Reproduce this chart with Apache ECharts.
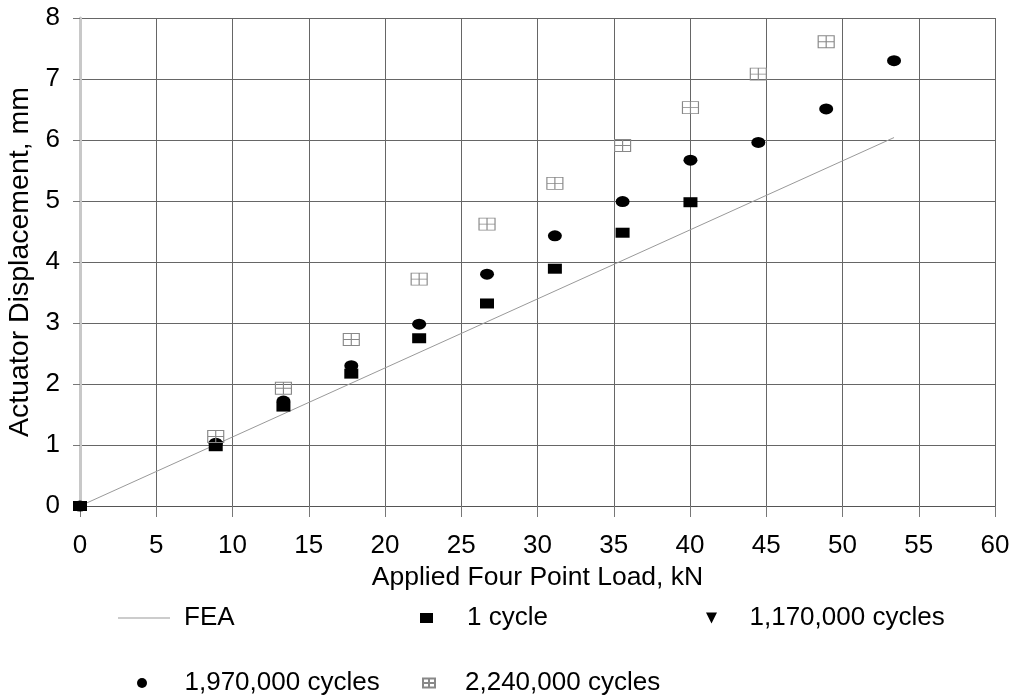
<!DOCTYPE html>
<html>
<head>
<meta charset="utf-8">
<script src="https://cdn.jsdelivr.net/npm/echarts@6/dist/echarts.min.js"></script>
<style>html,body{margin:0;padding:0;background:#fff}#c{width:1011px;height:700px}</style>
</head>
<body>
<div id="c"></div>
<script>
const FONT = "'Liberation Sans', Arial, sans-serif";
const xTicksMin = 0, xTicksMax = 60, xTickStep = 5;
const yTicksMin = 0, yTicksMax = 8, yTickStep = 1;

const feaX = [0, 53.38];
const feaY = [0, 6.04];

const cycle1X = [0, 8.9, 13.34, 17.79, 22.24, 26.69, 31.14, 35.58, 40.03];
const cycle1Y = [0, 0.98, 1.63, 2.17, 2.75, 3.32, 3.89, 4.48, 4.98];

const cycle1170X = [];
const cycle1170Y = [];

const cycle1970X = [0, 8.9, 13.34, 17.79, 22.24, 26.69, 31.14, 35.58, 40.03, 44.48, 48.93, 53.38];
const cycle1970Y = [0, 1.03, 1.72, 2.30, 2.98, 3.80, 4.43, 4.99, 5.67, 5.96, 6.51, 7.30];

const cycle2240X = [8.9, 13.34, 17.79, 22.24, 26.69, 31.14, 35.58, 40.03, 44.48, 48.93];
const cycle2240Y = [1.14, 1.93, 2.73, 3.72, 4.62, 5.29, 5.91, 6.53, 7.08, 7.61];

const names = ['FEA', '1 cycle', '1,170,000 cycles', '1,970,000 cycles', '2,240,000 cycles'];

function pairs(xs, ys) { return xs.map((x, i) => [x, ys[i]]); }

const gridPath = 'path://M0,0H16V12H0Z M8,0V12 M0,6H16';
const triPath = 'path://M0,0H10L5,10Z';

function leg(item, left, top, w, h, gapPad) {
  return {
    data: [item], left: left, top: top, padding: 0, orient: 'horizontal',
    itemWidth: w, itemHeight: h, selectedMode: false,
    textStyle: { fontFamily: FONT, fontSize: 26, color: '#000', padding: [0, 0, 0, gapPad] }
  };
}

const chart = echarts.init(document.getElementById('c'));
chart.setOption({
  animation: false,
  backgroundColor: '#fff',
  grid: { left: 80, right: 16, top: 18, bottom: 194, containLabel: false, outerBoundsMode: 'none' },
  xAxis: {
    type: 'value', min: xTicksMin, max: xTicksMax, interval: xTickStep,
    name: 'Applied Four Point Load, kN', nameLocation: 'middle', nameGap: 58,
    nameTextStyle: { fontFamily: FONT, fontSize: 26.5, color: '#000' },
    axisLine: { show: true, lineStyle: { color: '#555', width: 1 } },
    axisTick: { show: true, length: 11, lineStyle: { color: '#777' } },
    axisLabel: { fontFamily: FONT, fontSize: 26, color: '#000', margin: 27 },
    splitLine: { show: true, lineStyle: { color: '#666', width: 1 } }
  },
  yAxis: {
    type: 'value', min: yTicksMin, max: yTicksMax, interval: yTickStep,
    name: 'Actuator Displacement, mm', nameLocation: 'middle', nameGap: 44,
    nameTextStyle: { fontFamily: FONT, fontSize: 28.5, color: '#000' },
    axisLine: { show: true, lineStyle: { color: '#c8c8c8', width: 3 } },
    axisTick: { show: true, length: 7, lineStyle: { color: '#777' } },
    axisLabel: { fontFamily: FONT, fontSize: 26, color: '#000', margin: 20 },
    splitLine: { show: true, lineStyle: { color: '#666', width: 1 } }
  },
  legend: [
    leg({ name: names[0], icon: 'rect', itemStyle: { color: '#999' } }, 118, 605, 52, 1, 9),
    leg(names[1], 420, 605, 13, 10, 29),
    leg(names[2], 706, 605, 12, 11, 27),
    leg(names[3], 137, 670, 11, 10, 32),
    leg(names[4], 422, 670, 12, 10, 25)
  ],
  series: [
    { name: names[0], type: 'line', data: pairs(feaX, feaY), symbol: 'none', showSymbol: false,
      lineStyle: { color: '#999', width: 1 }, itemStyle: { color: '#999' }, z: 2 },
    { name: names[1], type: 'scatter', data: pairs(cycle1X, cycle1Y), symbol: 'rect', symbolSize: [14, 10],
      itemStyle: { color: '#000', opacity: 1 }, z: 3 },
    { name: names[2], type: 'scatter', data: pairs(cycle1170X, cycle1170Y), symbol: triPath, symbolSize: [12, 11],
      itemStyle: { color: '#000', opacity: 1 }, z: 3 },
    { name: names[3], type: 'scatter', data: pairs(cycle1970X, cycle1970Y), symbol: 'circle', symbolSize: [14, 11],
      itemStyle: { color: '#000', opacity: 1 }, z: 4 },
    { name: names[4], type: 'scatter', data: pairs(cycle2240X, cycle2240Y), symbol: gridPath, symbolSize: [16, 12],
      itemStyle: { color: 'rgba(0,0,0,0)', borderColor: '#888', borderWidth: 1, opacity: 1 }, z: 5 }
  ]
});
</script>
</body>
</html>
